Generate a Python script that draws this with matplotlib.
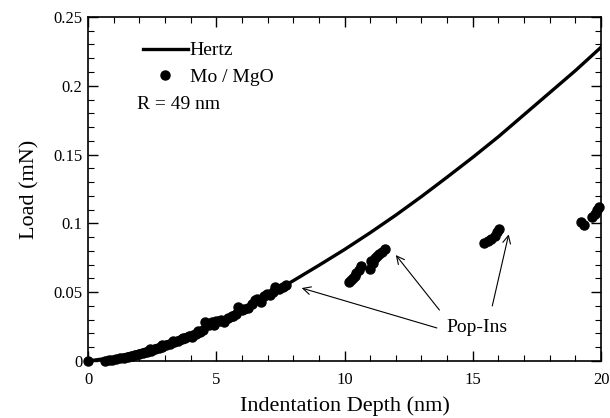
import matplotlib
matplotlib.use("Agg")
import matplotlib.pyplot as plt
from matplotlib.ticker import MultipleLocator, FixedLocator, FixedFormatter

plt.rcParams['font.family'] = ['Liberation Serif', 'DejaVu Serif']

# Hertz fit
hertz_depth = [0, 1, 2, 3, 4, 5, 6, 7, 8, 9, 10, 11, 12, 13, 14, 15, 16, 17, 18, 19, 20]
hertz_load = [0, 0.0026, 0.0072, 0.0133, 0.0204, 0.0286, 0.0377, 0.0476, 0.0583, 0.0695,
              0.0810, 0.0932, 0.1060, 0.1195, 0.1336, 0.1480, 0.1630, 0.1790, 0.1950, 0.2110, 0.2280]

# Mo / MgO measured points
mo_depth = [0.0, 0.66, 0.8, 0.95, 1.1, 1.25, 1.4, 1.55, 1.7, 1.85, 2.0, 2.15, 2.3, 2.45,
            2.6, 2.75, 2.9, 3.05, 3.2, 3.35, 3.5, 3.65, 3.8, 3.95, 4.05, 4.2, 4.35, 4.5,
            4.55, 4.7, 4.85, 5.0, 5.1, 5.3, 5.45, 5.6, 5.75, 5.85, 6.0, 6.1, 6.25, 6.4,
            6.5, 6.6, 6.75, 6.85, 6.97, 7.1, 7.2, 7.3, 7.45, 7.6, 7.7,
            2.4, 2.9, 3.3, 3.7, 4.3, 4.9, 5.2, 5.65,
            10.19, 10.25, 10.32, 10.39, 10.46, 10.55, 10.66, 11.01, 11.05, 11.12,
            11.2, 11.28, 11.36, 11.45, 11.56,
            15.45, 15.6, 15.72, 15.85, 15.95, 16.03,
            19.22, 19.34, 19.65, 19.75, 19.84, 19.92]
mo_load = [0.0, 0.0003, 0.0006, 0.0010, 0.0014, 0.0019, 0.0024, 0.0030, 0.0037, 0.0044,
           0.0051, 0.0058, 0.0066, 0.0075, 0.0084, 0.0093, 0.0103, 0.0113, 0.0124, 0.0135,
           0.0147, 0.0158, 0.0170, 0.0178, 0.0176, 0.0195, 0.0210, 0.0225, 0.0285, 0.0262,
           0.0280, 0.0290, 0.0288, 0.0282, 0.0312, 0.0330, 0.0345, 0.0395, 0.0372, 0.0375,
           0.0385, 0.0415, 0.0440, 0.0452, 0.0430, 0.0470, 0.0487, 0.0480, 0.0500, 0.0540,
           0.0525, 0.0540, 0.0553,
           0.0085, 0.0115, 0.0142, 0.0170, 0.0220, 0.0262, 0.0300, 0.0325,
           0.0575, 0.0585, 0.0600, 0.0620, 0.0640, 0.0660, 0.0690, 0.0670, 0.0730, 0.0710,
           0.0750, 0.0760, 0.0775, 0.0790, 0.0815,
           0.0858, 0.0875, 0.0890, 0.0905, 0.0935, 0.0960,
           0.1010, 0.0985, 0.1045, 0.1065, 0.1100, 0.1120]

x_ticks = [0, 5, 10, 15, 20]
x_labels = ['0', '5', '10', '15', '20']
y_ticks = [0, 0.05, 0.1, 0.15, 0.2, 0.25]
y_labels = ['0', '0.05', '0.1', '0.15', '0.2', '0.25']

# arrow targets for the pop-in callout
popin_targets = [(8.33, 0.053), (12.0, 0.077), (16.4, 0.092)]
popin_starts = [(13.6, 0.024), (13.7, 0.037), (15.76, 0.040)]

fig = plt.figure(figsize=(6.10, 4.18), dpi=100)
ax = fig.add_axes([0.1443, 0.1364, 0.8410, 0.8230])

ax.plot(hertz_depth, hertz_load, color='black', lw=2.4, label='Hertz', zorder=2)
ax.plot(mo_depth, mo_load, 'o', color='black', ms=6.5, mec='black', label='Mo / MgO',
        zorder=3, clip_on=False)

ax.set_xlim(0, 20)
ax.set_ylim(0, 0.25)
ax.xaxis.set_major_locator(FixedLocator(x_ticks))
ax.xaxis.set_major_formatter(FixedFormatter(x_labels))
ax.yaxis.set_major_locator(FixedLocator(y_ticks))
ax.yaxis.set_major_formatter(FixedFormatter(y_labels))
ax.xaxis.set_minor_locator(MultipleLocator(1))
ax.yaxis.set_minor_locator(MultipleLocator(0.01))
ax.tick_params(which='both', direction='in', top=True, right=True, labelsize=12)
ax.tick_params(axis='x', which='major', pad=8)
ax.tick_params(axis='y', which='major', pad=4)
ax.tick_params(which='major', length=7, width=1)
ax.tick_params(which='minor', length=4, width=0.8)
for s in ax.spines.values():
    s.set_linewidth(1.2)

ax.set_xlabel('Indentation Depth (nm)', fontsize=16, labelpad=6)
ax.set_ylabel('Load (mN)', fontsize=16, labelpad=10)

leg = ax.legend(loc='upper left', bbox_to_anchor=(0.107, 0.928), frameon=False,
                fontsize=14, handlelength=2.3, handletextpad=0.1, labelspacing=0.45,
                borderaxespad=0, borderpad=0)
ax.text(0.095, 0.745, 'R = 49 nm', transform=ax.transAxes, fontsize=14, va='center')

ax.text(15.15, 0.024, 'Pop-Ins', fontsize=14, ha='center', va='center')
for (tx, ty), (sx, sy) in zip(popin_targets, popin_starts):
    ax.annotate('', xy=(tx, ty), xytext=(sx, sy),
                arrowprops=dict(arrowstyle='->', lw=0.8, color='black', mutation_scale=14,
                                shrinkA=0, shrinkB=0))

fig.savefig('out.png', dpi=100)
